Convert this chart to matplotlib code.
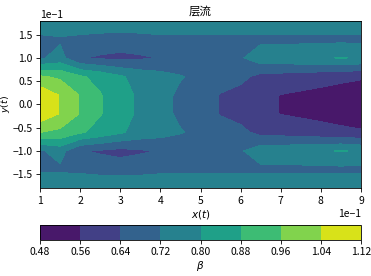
import numpy as np
import matplotlib
matplotlib.use("Agg")
import matplotlib.pyplot as plt

plt.rcParams['font.family'] = ['Noto Sans CJK SC', 'DejaVu Sans']

# grid (x: 0.1..0.9, y: -0.18..0.18)
x_vals = [0.10, 0.15, 0.20, 0.25, 0.30, 0.35, 0.40, 0.45, 0.50,
          0.55, 0.60, 0.65, 0.70, 0.75, 0.80, 0.85, 0.90]
y_vals = [0.18, 0.14, 0.10, 0.06, 0.02, -0.02, -0.06, -0.10, -0.14, -0.18]

# beta, one row per y value (top to bottom)
row_p18 = [0.78, 0.78, 0.78, 0.78, 0.78, 0.78, 0.78, 0.78, 0.78,
           0.78, 0.785, 0.785, 0.785, 0.785, 0.785, 0.785, 0.785]
row_p14 = [0.70, 0.71, 0.70, 0.69, 0.685, 0.69, 0.70, 0.70, 0.70,
           0.70, 0.70, 0.70, 0.70, 0.70, 0.70, 0.70, 0.70]
row_p10 = [0.709, 0.747, 0.645, 0.63, 0.62, 0.63, 0.643, 0.66, 0.67,
           0.68, 0.71, 0.77, 0.77, 0.78, 0.79, 0.805, 0.79]
row_p06 = [0.97, 0.945, 0.89, 0.855, 0.81, 0.77, 0.75, 0.725, 0.70,
           0.68, 0.666, 0.612, 0.61, 0.60, 0.59, 0.58, 0.57]
row_p02 = [1.10, 1.035, 0.955, 0.885, 0.83, 0.785, 0.745, 0.705, 0.675,
           0.635, 0.605, 0.58, 0.558, 0.548, 0.538, 0.525, 0.513]
row_m02 = [1.10, 1.035, 0.955, 0.885, 0.83, 0.785, 0.745, 0.705, 0.675,
           0.635, 0.605, 0.58, 0.558, 0.548, 0.538, 0.525, 0.513]
row_m06 = [0.96, 0.94, 0.89, 0.85, 0.81, 0.77, 0.75, 0.725, 0.70,
           0.68, 0.665, 0.612, 0.61, 0.60, 0.59, 0.58, 0.57]
row_m10 = [0.71, 0.75, 0.645, 0.63, 0.615, 0.63, 0.645, 0.66, 0.67,
           0.68, 0.71, 0.77, 0.77, 0.78, 0.79, 0.805, 0.79]
row_m14 = [0.705, 0.705, 0.70, 0.69, 0.685, 0.69, 0.70, 0.70, 0.70,
           0.70, 0.70, 0.70, 0.70, 0.70, 0.70, 0.70, 0.70]
row_m18 = [0.795, 0.795, 0.795, 0.79, 0.79, 0.79, 0.79, 0.79, 0.79,
           0.785, 0.785, 0.785, 0.785, 0.785, 0.785, 0.785, 0.785]

levels = [0.48, 0.56, 0.64, 0.72, 0.80, 0.88, 0.96, 1.04, 1.12]

beta = np.array([row_p18, row_p14, row_p10, row_p06, row_p02,
                 row_m02, row_m06, row_m10, row_m14, row_m18])
X, Y = np.meshgrid(x_vals, y_vals)

fig = plt.figure(figsize=(371 / 75, 276 / 75), dpi=75)
ax = fig.add_axes([0.108, 0.318, 0.865, 0.607])
cax = fig.add_axes([0.108, 0.130, 0.865, 0.054])

cs = ax.contourf(X, Y, beta, levels=levels, cmap='viridis')
ax.set_title('层流', fontsize=11)
ax.set_xlabel('$x(t)$', labelpad=2)
ax.set_ylabel('$y(t)$', fontsize=9)
ax.yaxis.set_label_coords(-0.086, 0.5)
ax.set_yticks([-0.15, -0.10, -0.05, 0.0, 0.05, 0.10, 0.15])
ax.ticklabel_format(style='sci', axis='both', scilimits=(0, 0))

cb = fig.colorbar(cs, cax=cax, orientation='horizontal')
cb.set_ticks(levels)
cb.set_ticklabels(['%.2f' % v for v in levels])
cb.set_label(r'$\beta$', labelpad=2)

fig.savefig('out.png', dpi=75)
